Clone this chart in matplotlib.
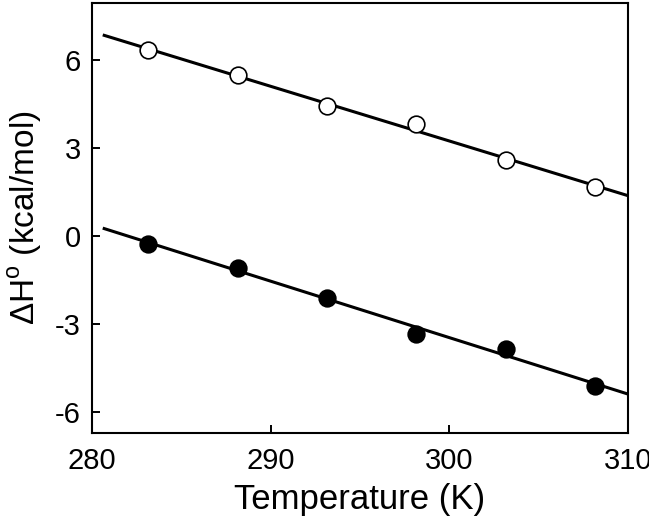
import numpy as np
import matplotlib
matplotlib.use("Agg")
import matplotlib.pyplot as plt

plt.rcParams['font.family'] = ['Liberation Sans', 'DejaVu Sans']
plt.rcParams['mathtext.fontset'] = 'custom'
plt.rcParams['mathtext.rm'] = 'Liberation Sans'
plt.rcParams['axes.unicode_minus'] = False

temperature = [283.15, 288.15, 293.15, 298.15, 303.15, 308.15]
dH_open = [6.34, 5.49, 4.43, 3.82, 2.59, 1.67]
dH_filled = [-0.27, -1.09, -2.11, -3.34, -3.85, -5.11]
xticks = [280, 290, 300, 310]
yticks = [-6, -3, 0, 3, 6]

fig = plt.figure(figsize=(6.49, 5.21), dpi=100)
ax = fig.add_axes([0.1418, 0.169, 0.8258, 0.825])

fit_x = np.array([280.6, 310.0])
for data, face in [(dH_open, 'white'), (dH_filled, 'black')]:
    k, b = np.polyfit(temperature, data, 1)
    ax.plot(fit_x, k * fit_x + b, color='black', lw=2.2, zorder=2, solid_capstyle='butt')
    ax.plot(temperature, data, 'o', ms=12, mfc=face, mec='black', mew=1.2, zorder=3)

ax.set_xlim(280, 310)
ax.set_ylim(-6.72, 7.95)
ax.set_xticks(xticks)
ax.set_yticks(yticks)
ax.tick_params(direction='in', length=6, width=1.4, labelsize=21, colors='black')
ax.tick_params(axis='x', pad=10)
ax.tick_params(axis='y', pad=8)
for s in ax.spines.values():
    s.set_linewidth(1.5)
ax.set_xlabel('Temperature (K)', fontsize=25, labelpad=6)
ax.set_ylabel(r'ΔH$^\mathregular{o}$ (kcal/mol)', fontsize=24, labelpad=8)

fig.savefig('out.png', dpi=100)
